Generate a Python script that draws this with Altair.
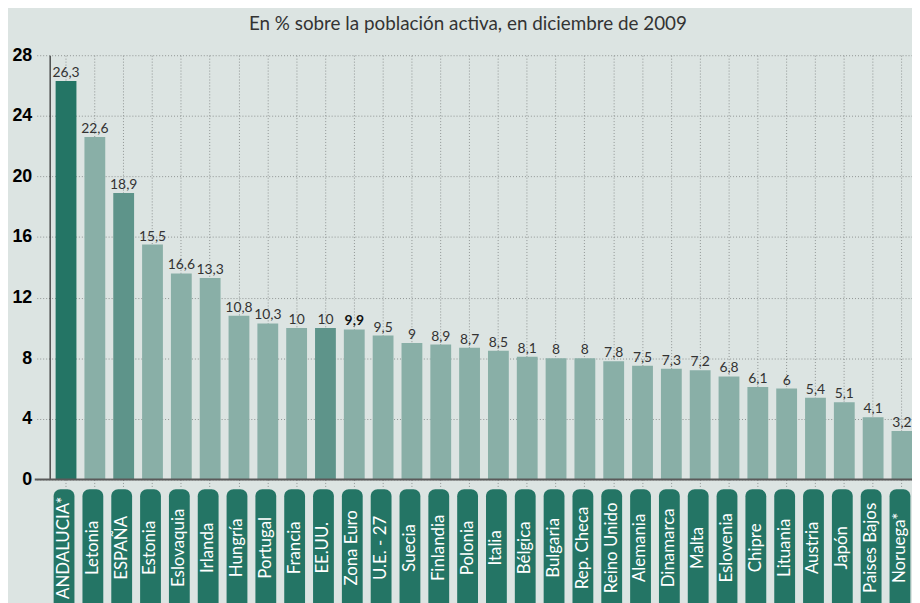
import altair as alt
import pandas as pd

title_text = "En % sobre la población activa, en diciembre de 2009"
countries = ["ANDALUCIA*", "Letonia", "ESPAÑA", "Estonia", "Eslovaquia", "Irlanda",
             "Hungría", "Portugal", "Francia", "EE.UU.", "Zona Euro", "U.E. - 27",
             "Suecia", "Finlandia", "Polonia", "Italia", "Bélgica", "Bulgaria",
             "Rep. Checa", "Reino Unido", "Alemania", "Dinamarca", "Malta",
             "Eslovenia", "Chipre", "Lituania", "Austria", "Japón", "Paises Bajos",
             "Noruega*"]
# bar heights as drawn in the picture
values = [26.3, 22.6, 18.9, 15.5, 13.6, 13.3, 10.8, 10.3, 10, 10, 9.9, 9.5, 9, 8.9,
          8.7, 8.5, 8.1, 8, 8, 7.8, 7.5, 7.3, 7.2, 6.8, 6.1, 6, 5.4, 5.1, 4.1, 3.2]
# value labels as printed
labels = ["26,3", "22,6", "18,9", "15,5", "16,6", "13,3", "10,8", "10,3", "10", "10",
          "9,9", "9,5", "9", "8,9", "8,7", "8,5", "8,1", "8", "8", "7,8", "7,5", "7,3",
          "7,2", "6,8", "6,1", "6", "5,4", "5,1", "4,1", "3,2"]
groups = ["andalucia", "otro", "destacado", "otro", "otro", "otro", "otro", "otro",
          "otro", "destacado"] + ["otro"] * 20
bold = [c == "Zona Euro" for c in countries]
y_ticks = [0, 4, 8, 12, 16, 20, 24, 28]

df = pd.DataFrame({"pais": countries, "valor": values, "etiqueta": labels,
                   "grupo": groups, "negrita": bold})

H = 428
W = 860
DARK = "#247565"
FONT = "Lato"

xscale = alt.Scale(domain=countries, range=[0, 872.4], paddingInner=0.278, paddingOuter=0.139)
yscale = alt.Scale(domain=[0, 28], nice=False)

base = alt.Chart(df)

bars = base.mark_bar().encode(
    x=alt.X("pais:N", scale=xscale, sort=countries,
            axis=alt.Axis(title=None, labels=False, domain=False, grid=True,
                          bandPosition=0.5, gridColor="#8f9493", gridDash=[1, 2],
                          gridWidth=1, tickColor="#8f9493", tickDash=[1, 2],
                          tickSize=9, tickBand="center")),
    y=alt.Y("valor:Q", scale=yscale,
            axis=alt.Axis(title=None, values=y_ticks, offset=2, domainColor="#000000",
                          domainWidth=1, tickColor="#8f9493", tickDash=[1, 2],
                          tickSize=15, labelFont="Liberation Sans", labelFontSize=18,
                          labelFontWeight="bold", labelColor="#000000", labelPadding=3,
                          gridColor="#8f9493", gridDash=[1, 2], gridWidth=1)),
    color=alt.Color("grupo:N",
                    scale=alt.Scale(domain=["andalucia", "destacado", "otro"],
                                    range=[DARK, "#5e948a", "#89afa7"]),
                    legend=None),
)

vals = base.transform_filter(~alt.datum.negrita).mark_text(
    baseline="alphabetic", dy=-4, font=FONT, fontSize=14, color="#333333").encode(
    x=alt.X("pais:N", scale=xscale, sort=countries),
    y=alt.Y("valor:Q", scale=yscale),
    text="etiqueta:N",
)

vals_bold = base.transform_filter(alt.datum.negrita).mark_text(
    baseline="alphabetic", dy=-4, font=FONT, fontSize=14, fontWeight="bold",
    color="#111111").encode(
    x=alt.X("pais:N", scale=xscale, sort=countries),
    y=alt.Y("valor:Q", scale=yscale),
    text="etiqueta:N",
)

zero = alt.Chart(pd.DataFrame({"y": [0]})).mark_rule(color="#5a5a5a", strokeWidth=2).encode(
    y=alt.Y("y:Q", scale=yscale),
    x=alt.value(-17),
    x2=alt.value(880),
)

boxes = base.mark_bar(color=DARK, cornerRadius=7, xOffset=-2).encode(
    x=alt.X("pais:N", scale=xscale, sort=countries),
    y=alt.value(H + 10),
    y2=alt.value(H + 140),
)

names = base.mark_text(angle=270, align="center", baseline="middle", color="#ffffff",
                       font=FONT, fontSize=17, xOffset=-2).encode(
    x=alt.X("pais:N", scale=xscale, sort=countries),
    y=alt.value(H + 69),
    text="pais:N",
)

title = alt.Chart(pd.DataFrame({"t": [title_text]})).mark_text(
    font=FONT, fontSize=19, color="#333333", align="center", baseline="alphabetic").encode(
    x=alt.value(420),
    y=alt.value(-25),
    text="t:N",
)

chart = alt.layer(bars, vals, vals_bold, boxes, names, zero, title).properties(
    width=W,
    height=H,
    autosize=alt.AutoSizeParams(type="none"),
    padding={"left": 44, "top": 45, "right": 8, "bottom": 122},
).configure(background="#dce4e2").configure_view(stroke=None)

chart.save("out.html", embed_options={"renderer": "svg", "actions": False})
